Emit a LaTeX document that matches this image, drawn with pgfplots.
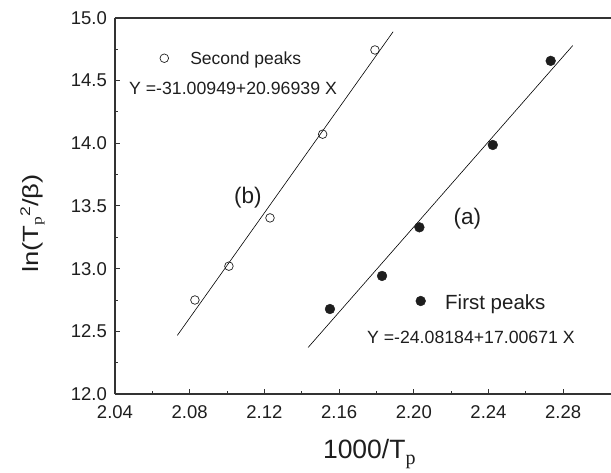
\documentclass[border=0pt]{standalone}
\usepackage{fontspec}
\setmainfont{Liberation Sans}
\newfontfamily\serifp{Liberation Serif}
\usepackage{pgfplots}
\pgfplotsset{compat=1.18}
\definecolor{txt}{HTML}{1E1E1E}
\definecolor{axc}{HTML}{333333}
\begin{document}
\begin{tikzpicture}
\begin{axis}[
  scale only axis, width=496bp, height=376bp,
  xmin=2.04, xmax=2.3056, ymin=12, ymax=15,
  axis x line*=box, axis y line*=left,
  axis line style={axc, line width=1.2bp},
  tick pos=left, tick align=inside,
  major tick length=5bp, minor tick length=3bp,
  every tick/.style={axc, line width=1bp},
  xtick={2.04,2.08,2.12,2.16,2.20,2.24,2.28},
  ytick={12,12.5,13,13.5,14,14.5,15},
  minor x tick num=1, minor y tick num=1,
  xticklabel style={/pgf/number format/fixed, /pgf/number format/fixed zerofill, /pgf/number format/precision=2, /pgf/number format/assume math mode=true, anchor=base, yshift=-24bp},
  yticklabel style={/pgf/number format/fixed, /pgf/number format/fixed zerofill, /pgf/number format/precision=1, /pgf/number format/assume math mode=true, anchor=east, xshift=-8bp},
  ticklabel style={font=\fontsize{18.5bp}{20bp}\selectfont, text=txt, inner sep=0pt},
  xlabel={1000/T\raisebox{-6bp}{\fontsize{20bp}{20bp}\serifp\selectfont p}},
  xlabel style={at={(axis description cs:0.419,0)}, anchor=base west, yshift=-64bp, inner sep=0pt,
     font=\fontsize{26.5bp}{28bp}\selectfont, text=txt},
  ylabel={\scalebox{1.25}[1]{ln(T\raisebox{-3.5bp}{\fontsize{14bp}{14bp}\serifp\selectfont p}\raisebox{8bp}{\fontsize{14bp}{14bp}\selectfont 2}/β)}},
  ylabel style={at={(axis description cs:-0.1552,0.322)}, anchor=base west, inner sep=0pt,
     font=\fontsize{22bp}{24bp}\selectfont, text=txt},
  clip=false,
]
% fitted lines
\addplot[black, line width=0.6bp] coordinates {(2.0734,12.468) (2.1889,14.890)};
\addplot[black, line width=0.6bp] coordinates {(2.1434,12.371) (2.2851,14.780)};
% second peaks (open)
\addplot[only marks, mark=o, mark size=4.3bp, mark options={draw=txt, fill=white, line width=0.7bp}] coordinates {
(2.0828,12.750) (2.1010,13.020) (2.1230,13.405) (2.1512,14.073) (2.1792,14.745)};
% first peaks (filled)
\addplot[only marks, mark=*, mark size=4.9bp, mark options={draw=txt, fill=txt}] coordinates {
(2.1551,12.678) (2.1830,12.942) (2.2030,13.330) (2.2423,13.987) (2.2733,14.658)};
% legend markers
\addplot[only marks, mark=o, mark size=4.3bp, mark options={draw=txt, fill=white, line width=0.7bp}] coordinates {(2.0664,14.679)};
\addplot[only marks, mark=*, mark size=4.9bp, mark options={draw=txt, fill=txt}] coordinates {(2.2037,12.742)};
% texts
\node[anchor=base west, inner sep=0pt, text=txt, font=\fontsize{17.5bp}{19bp}\selectfont] at (axis cs:2.0802,14.626) {Second peaks};
\node[anchor=base west, inner sep=0pt, text=txt, font=\fontsize{17.7bp}{19bp}\selectfont] at (axis cs:2.0475,14.392) {Y =-31.00949+20.96939 X};
\node[anchor=base west, inner sep=0pt, text=txt, font=\fontsize{22.5bp}{24bp}\selectfont] at (axis cs:2.1037,13.516) {(b)};
\node[anchor=base west, inner sep=0pt, text=txt, font=\fontsize{22.5bp}{24bp}\selectfont] at (axis cs:2.2212,13.349) {(a)};
\node[anchor=base west, inner sep=0pt, text=txt, font=\fontsize{20.5bp}{22bp}\selectfont] at (axis cs:2.2167,12.676) {First peaks};
\node[anchor=base west, inner sep=0pt, text=txt, font=\fontsize{17.7bp}{19bp}\selectfont] at (axis cs:2.1749,12.405) {Y =-24.08184+17.00671 X};
\end{axis}
\pgfresetboundingbox
\path (-115bp,-79bp) rectangle (496bp,394bp);
\end{tikzpicture}
\end{document}
